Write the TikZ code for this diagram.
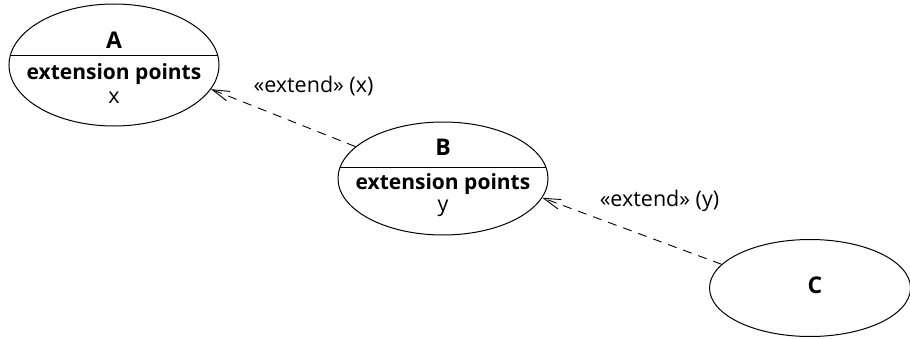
\documentclass[tikz,border=0pt]{standalone}
\usepackage{fontspec}
\setmainfont{Open Sans}
\usetikzlibrary{shapes.geometric,arrows.meta,calc}

\tikzset{
  usecase/.style={draw, ellipse, inner sep=0pt, line width=1pt},
  txt/.style={font=\fontsize{21.5}{24}\selectfont, inner sep=0pt},
  bold/.style={font=\fontsize{21}{24}\selectfont\bfseries, inner sep=0pt},
  title/.style={font=\fontsize{23}{26}\selectfont\bfseries, inner sep=0pt},
  extend/.style={line width=0.9pt, dash pattern=on 9pt off 7pt,
    -{Straight Barb[length=17pt,width=10pt]}}
}

\begin{document}
\begin{tikzpicture}[x=1pt, y=1pt]
    \useasboundingbox (0,0) rectangle (910,338);

    % use cases
    \node[usecase, minimum width=210pt, minimum height=122pt] (A) at (114,273) {};
    \node[usecase, minimum width=210pt, minimum height=113pt] (B) at (443,159.5) {};
    \node[usecase, minimum width=201pt, minimum height=97pt] (C) at (810,50) {};

    % A
    \node[title] (a_name) at ($(A.center)+(0,25)$) {A};
    \draw[line width=1pt] ($(A.center)+(-103.9,9)$) -- ($(A.center)+(103.9,9)$);
    \node[bold] (a_ext) at ($(A.center)+(0,-9)$) {extension points};
    \node[txt] (a_pt) at ($(A.center)+(0,-33)$) {x};

    % B
    \node[title] (b_name) at ($(B.center)+(0,31)$) {B};
    \draw[line width=1pt] ($(B.center)+(-102.8,11.5)$) -- ($(B.center)+(102.8,11.5)$);
    \node[bold] (b_ext) at ($(B.center)+(0,-5.5)$) {extension points};
    \node[txt] (b_pt) at ($(B.center)+(0,-30)$) {y};

    % C
    \node[title] (c_name) at ($(C.center)+(5,3)$) {C};

    % extend relations
    \draw[extend] (B.160) -- (A.-14);
    \draw[extend] (C.165) -- (B.-11);
    \node[txt] (x_lbl) at (313.5,252) {«extend» (x)};
    \node[txt] (y_lbl) at (659.5,137) {«extend» (y)};
\end{tikzpicture}
\end{document}
